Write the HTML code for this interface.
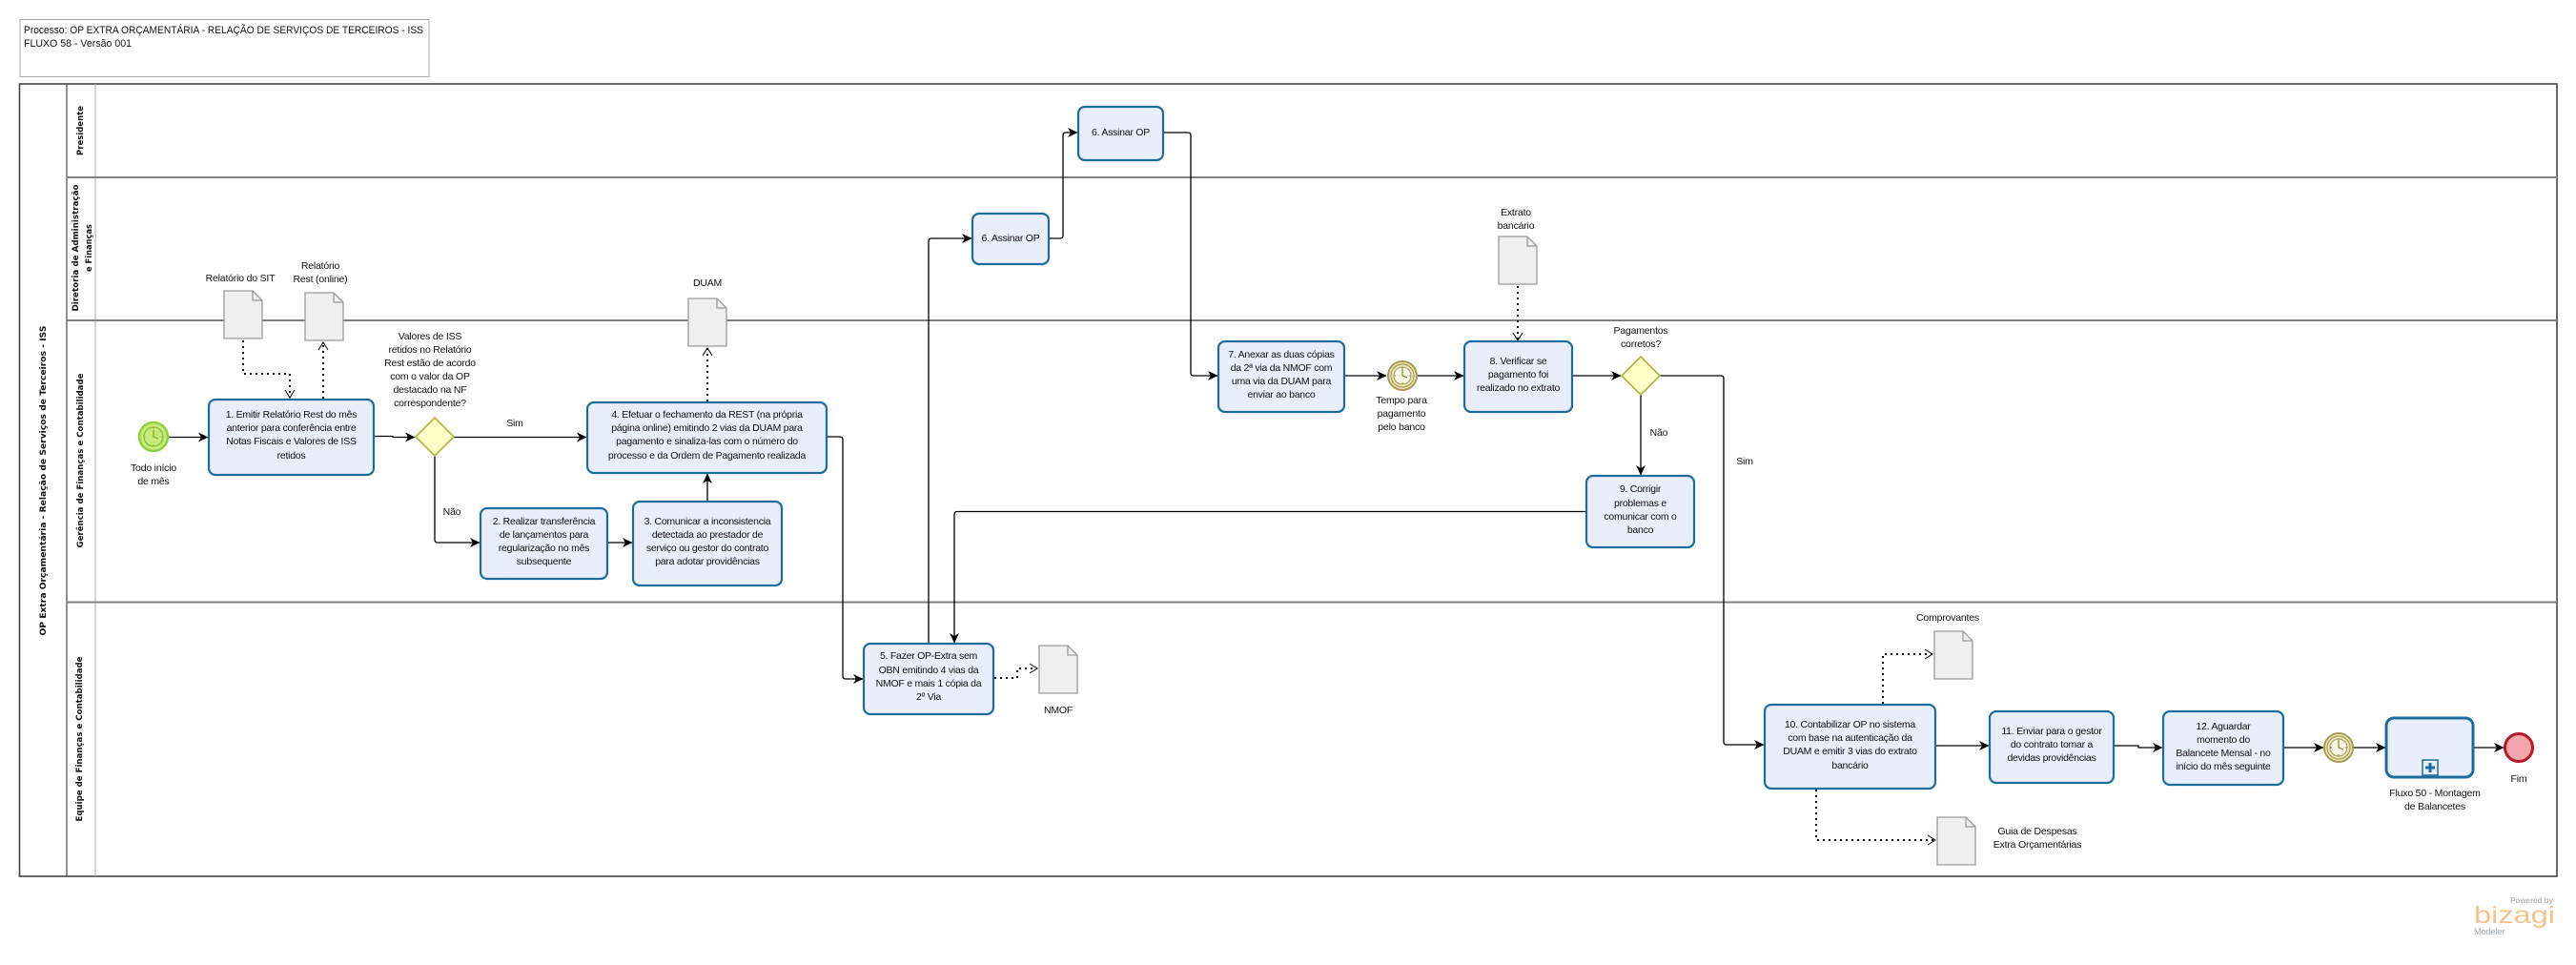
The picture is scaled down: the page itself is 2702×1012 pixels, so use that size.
<!DOCTYPE html>
<html><head><meta charset="utf-8">
<style>
html,body{margin:0;padding:0;background:#fff;}
svg{display:block;}
text{font-family:"Liberation Sans",Arial,sans-serif;fill:#111;}
.t{font-size:10.5px;text-anchor:middle;dominant-baseline:central;letter-spacing:-0.25px;}
.lb{font-size:10.5px;text-anchor:middle;dominant-baseline:central;letter-spacing:-0.2px;}
.lane{font-family:"DejaVu Sans",sans-serif;font-weight:bold;font-size:9px;text-anchor:middle;dominant-baseline:central;}
.task{fill:#e9eefc;stroke:#1d6c9c;stroke-width:2.2;}
.doc{fill:#efefef;stroke:#9a9a9a;stroke-width:1.3;}
.fl{fill:none;stroke:#000;stroke-width:1.3;}
.as{fill:none;stroke:#000;stroke-width:2;stroke-dasharray:2,4;}
</style></head><body>
<svg width="2702" height="1012" viewBox="0 0 2702 1012" xmlns="http://www.w3.org/2000/svg">
<defs>
<marker id="ah" markerWidth="11" markerHeight="11" refX="10" refY="5.5" orient="auto" markerUnits="userSpaceOnUse">
<path d="M0,0.5 L10.5,5.5 L0,10.5 L3,5.5 Z" fill="#000"/>
</marker>
<marker id="oa" markerWidth="12" markerHeight="12" refX="9" refY="6" orient="auto" markerUnits="userSpaceOnUse">
<path d="M1,1 L9,6 L1,11" fill="none" stroke="#000" stroke-width="1"/>
</marker>
</defs>

<!-- Title box -->
<rect x="21" y="20.5" width="429" height="60" fill="#fff" stroke="#a8a8a8" stroke-width="1"/>
<text x="25" y="32" style="font-size:11px;dominant-baseline:central;" textLength="419" lengthAdjust="spacingAndGlyphs">Processo: OP EXTRA ORÇAMENTÁRIA -  RELAÇÃO DE SERVIÇOS DE TERCEIROS -  ISS</text>
<text x="25" y="46" style="font-size:11px;dominant-baseline:central;" textLength="113" lengthAdjust="spacingAndGlyphs">FLUXO 58 - Versão 001</text>

<!-- Pool -->
<rect x="20.5" y="88" width="2661.5" height="831" fill="#fff" stroke="#444" stroke-width="1.6"/>
<line x1="70" y1="88" x2="70" y2="919" stroke="#555" stroke-width="1.3"/>
<line x1="100" y1="88" x2="100" y2="919" stroke="#aaa" stroke-width="1"/>
<line x1="70" y1="186" x2="2682" y2="186" stroke="#808080" stroke-width="2"/>
<line x1="70" y1="336" x2="2682" y2="336" stroke="#808080" stroke-width="2"/>
<line x1="70" y1="631.5" x2="2682" y2="631.5" stroke="#808080" stroke-width="2"/>

<text class="lane" transform="translate(46,504) rotate(-90)" textLength="325" lengthAdjust="spacingAndGlyphs">OP Extra Orçamentária  -  Relação de Serviços de Terceiros  -  ISS</text>
<text class="lane" transform="translate(85,137) rotate(-90)" textLength="52" lengthAdjust="spacingAndGlyphs">Presidente</text>
<text class="lane" transform="translate(80,260) rotate(-90)" textLength="133" lengthAdjust="spacingAndGlyphs">Diretoria de Administração</text>
<text class="lane" transform="translate(94,260) rotate(-90)" textLength="50" lengthAdjust="spacingAndGlyphs">e Finanças</text>
<text class="lane" transform="translate(85,483) rotate(-90)" textLength="183" lengthAdjust="spacingAndGlyphs">Gerência de Finanças e Contabilidade</text>
<text class="lane" transform="translate(84,775) rotate(-90)" textLength="173" lengthAdjust="spacingAndGlyphs">Equipe de Finanças e Contabilidade</text>

<!-- Documents -->
<g class="doc">
<path d="M235,305 h30 l10,10 v40 h-40 Z"/><path d="M265,305 v10 h10" fill="none"/>
<path d="M320,307 h30 l10,10 v40 h-40 Z"/><path d="M350,307 v10 h10" fill="none"/>
<path d="M722,313 h30 l10,10 v40 h-40 Z"/><path d="M752,313 v10 h10" fill="none"/>
<path d="M1572,248 h30 l10,10 v40 h-40 Z"/><path d="M1602,248 v10 h10" fill="none"/>
<path d="M1090,677 h30 l10,10 v40 h-40 Z"/><path d="M1120,677 v10 h10" fill="none"/>
<path d="M2029,662 h30 l10,10 v40 h-40 Z"/><path d="M2059,662 v10 h10" fill="none"/>
<path d="M2032,857 h30 l10,10 v40 h-40 Z"/><path d="M2062,857 v10 h10" fill="none"/>
</g>

<!-- Sequence flows -->
<g class="fl">
<path d="M176,458.5 H218" marker-end="url(#ah)"/>
<path d="M392,457.5 H412 V458.5 H435" marker-end="url(#ah)"/>
<path d="M476,458.5 H615" marker-end="url(#ah)"/>
<path d="M456,478 V566 Q456,569 459,569 H503" marker-end="url(#ah)"/>
<path d="M637,569 H663" marker-end="url(#ah)"/>
<path d="M742,526 V497" marker-end="url(#ah)"/>
<path d="M867,458 H881 Q884,458 884,461 V709 Q884,712 887,712 H905" marker-end="url(#ah)"/>
<path d="M974,675 V253 Q974,250 977,250 H1019" marker-end="url(#ah)"/>
<path d="M1100,250 H1112 Q1115,250 1115,247 V142 Q1115,139 1118,139 H1130" marker-end="url(#ah)"/>
<path d="M1220,139 H1246 Q1249,139 1249,142 V391 Q1249,394 1252,394 H1277" marker-end="url(#ah)"/>
<path d="M1410,394 H1454" marker-end="url(#ah)"/>
<path d="M1486,394 H1535" marker-end="url(#ah)"/>
<path d="M1649,394 H1700" marker-end="url(#ah)"/>
<path d="M1721,414 V498" marker-end="url(#ah)"/>
<path d="M1741,394 H1805 Q1808,394 1808,397 V778 Q1808,781 1811,781 H1850" marker-end="url(#ah)"/>
<path d="M1664,536.5 H1004 Q1001,536.5 1001,539.5 V674" marker-end="url(#ah)"/>
<path d="M2030,782 H2086" marker-end="url(#ah)"/>
<path d="M2217,782 H2243 V784 H2268" marker-end="url(#ah)"/>
<path d="M2395,784 H2437" marker-end="url(#ah)"/>
<path d="M2468,784 H2502" marker-end="url(#ah)"/>
<path d="M2594,784 H2626" marker-end="url(#ah)"/>
</g>

<!-- Associations -->
<g class="as">
<path d="M255,357 V392 H304 V417" marker-end="url(#oa)"/>
<path d="M339,418 V359" marker-end="url(#oa)"/>
<path d="M742,421 V365" marker-end="url(#oa)"/>
<path d="M1592,300 V357" marker-end="url(#oa)"/>
<path d="M1043,711 H1067 V701 H1088" marker-end="url(#oa)"/>
<path d="M1975,738 V686 H2027" marker-end="url(#oa)"/>
<path d="M1905,828 V881 H2030" marker-end="url(#oa)"/>
</g>

<!-- Tasks -->
<rect class="task" x="219" y="419" width="173" height="79" rx="7"/>
<text class="t" x="305.5" y="435">1. Emitir Relatório Rest  do mês</text>
<text class="t" x="305.5" y="449">anterior  para conferência entre</text>
<text class="t" x="305.5" y="463">Notas Fiscais e Valores de ISS</text>
<text class="t" x="305.5" y="478">retidos</text>

<rect class="task" x="504" y="533" width="133" height="74" rx="7"/>
<text class="t" x="570.5" y="547">2. Realizar transferência</text>
<text class="t" x="570.5" y="561">de lançamentos para</text>
<text class="t" x="570.5" y="575">regularização no mês</text>
<text class="t" x="570.5" y="589">subsequente</text>

<rect class="task" x="664" y="526" width="156" height="88" rx="7"/>
<text class="t" x="742" y="547">3. Comunicar a inconsistencia</text>
<text class="t" x="742" y="561">detectada ao prestador de</text>
<text class="t" x="742" y="575">serviço ou gestor do contrato</text>
<text class="t" x="742" y="589">para adotar providências</text>

<rect class="task" x="616" y="422" width="251" height="74" rx="7"/>
<text class="t" x="741.5" y="435">4. Efetuar o fechamento da REST (na própria</text>
<text class="t" x="741.5" y="449">página online) emitindo  2 vias da DUAM para</text>
<text class="t" x="741.5" y="463">pagamento e sinaliza-las com o número do</text>
<text class="t" x="741.5" y="478">processo e da Ordem de Pagamento realizada</text>

<rect class="task" x="906" y="675" width="136" height="74" rx="7"/>
<text class="t" x="974" y="688">5. Fazer OP-Extra sem</text>
<text class="t" x="974" y="703">OBN emitindo 4 vias da</text>
<text class="t" x="974" y="717">NMOF e mais 1 cópia da</text>
<text class="t" x="974" y="731">2º Via</text>

<rect class="task" x="1020" y="224" width="80" height="53" rx="7"/>
<text class="t" x="1060" y="250">6. Assinar OP</text>

<rect class="task" x="1131" y="112" width="89" height="56" rx="7"/>
<text class="t" x="1175.5" y="139">6. Assinar OP</text>

<rect class="task" x="1278" y="358" width="132" height="74" rx="7"/>
<text class="t" x="1344" y="372">7. Anexar as duas cópias</text>
<text class="t" x="1344" y="386">da 2ª via da NMOF com</text>
<text class="t" x="1344" y="400">uma via da DUAM para</text>
<text class="t" x="1344" y="414">enviar ao banco</text>

<rect class="task" x="1536" y="358" width="113" height="74" rx="7"/>
<text class="t" x="1592.5" y="379">8. Verificar se</text>
<text class="t" x="1592.5" y="393">pagamento foi</text>
<text class="t" x="1592.5" y="407">realizado no extrato</text>

<rect class="task" x="1664" y="499" width="113" height="75" rx="7"/>
<text class="t" x="1720.5" y="513">9. Corrigir</text>
<text class="t" x="1720.5" y="528">problemas e</text>
<text class="t" x="1720.5" y="542">comunicar com o</text>
<text class="t" x="1720.5" y="556">banco</text>

<rect class="task" x="1851" y="739" width="179" height="88" rx="7"/>
<text class="t" x="1940.5" y="760">10. Contabilizar OP no sistema</text>
<text class="t" x="1940.5" y="774">com base na autenticação da</text>
<text class="t" x="1940.5" y="788">DUAM e emitir 3 vias do extrato</text>
<text class="t" x="1940.5" y="803">bancário</text>

<rect class="task" x="2087" y="746" width="130" height="75" rx="7"/>
<text class="t" x="2152" y="767">11. Enviar para o gestor</text>
<text class="t" x="2152" y="781">do contrato tomar a</text>
<text class="t" x="2152" y="795">devidas providências</text>

<rect class="task" x="2269" y="746" width="126" height="77" rx="7"/>
<text class="t" x="2332" y="762">12. Aguardar</text>
<text class="t" x="2332" y="776">momento do</text>
<text class="t" x="2332" y="790">Balancete Mensal - no</text>
<text class="t" x="2332" y="804">início do mês seguinte</text>

<!-- Subprocess -->
<rect x="2503" y="753" width="91" height="62" rx="8" fill="#e9eefc" stroke="#1d6c9c" stroke-width="3"/>
<rect x="2541" y="797" width="16" height="16" fill="#e9eefc" stroke="#1d6c9c" stroke-width="1.5"/>
<path d="M2549,800 V810 M2544,805 H2554" stroke="#1d6c9c" stroke-width="3"/>

<!-- Gateways -->
<path d="M456,438 L476,458 L456,478 L436,458 Z" fill="#ffffc6" stroke="#b5ad3c" stroke-width="1.6"/>
<path d="M1721,374 L1741,394 L1721,414 L1701,394 Z" fill="#ffffc6" stroke="#b5ad3c" stroke-width="1.6"/>

<!-- Start event -->
<g transform="translate(161,458)">
<circle r="15" fill="#c8e97c" stroke="#8fd13e" stroke-width="2.5"/>
<circle r="10" fill="none" stroke="#82c333" stroke-width="1.3"/>
<path d="M0,-7 V0 L5,2" fill="none" stroke="#6fae28" stroke-width="1.2"/>
<path d="M0,-10 V-8 M0,10 V8 M-10,0 H-8 M10,0 H8" stroke="#82c333" stroke-width="1"/>
</g>

<!-- Timer intermediate events -->
<g transform="translate(1471,394)">
<circle r="15" fill="#ece6bf" stroke="#a89c52" stroke-width="2"/>
<circle r="12" fill="none" stroke="#a89c52" stroke-width="1.2"/>
<circle r="9" fill="#f8f5e2" stroke="#a89c52" stroke-width="1"/>
<path d="M0,-7 V0 L5,2" fill="none" stroke="#8a7f3a" stroke-width="1.2"/>
<path d="M0,-9 V-7 M0,9 V7 M-9,0 H-7 M9,0 H7" stroke="#8a7f3a" stroke-width="1"/>
</g>
<g transform="translate(2453,784)">
<circle r="15" fill="#ece6bf" stroke="#a89c52" stroke-width="2"/>
<circle r="12" fill="none" stroke="#a89c52" stroke-width="1.2"/>
<circle r="9" fill="#f8f5e2" stroke="#a89c52" stroke-width="1"/>
<path d="M0,-7 V0 L5,2" fill="none" stroke="#8a7f3a" stroke-width="1.2"/>
<path d="M0,-9 V-7 M0,9 V7 M-9,0 H-7 M9,0 H7" stroke="#8a7f3a" stroke-width="1"/>
</g>

<!-- End event -->
<circle cx="2642" cy="784" r="14.5" fill="#f2a3ab" stroke="#b01a2a" stroke-width="3"/>

<!-- Labels -->
<text class="lb" x="252" y="292">Relatório do SIT</text>
<text class="lb" x="336" y="279">Relatório</text>
<text class="lb" x="336" y="293">Rest (online)</text>
<text class="lb" x="451" y="353">Valores de ISS</text>
<text class="lb" x="451" y="367">retidos no Relatório</text>
<text class="lb" x="451" y="381">Rest estão de acordo</text>
<text class="lb" x="451" y="395">com o valor da OP</text>
<text class="lb" x="451" y="409">destacado na NF</text>
<text class="lb" x="451" y="423">correspondente?</text>
<text class="lb" x="161" y="491">Todo início</text>
<text class="lb" x="161" y="505">de mês</text>
<text class="lb" x="540" y="444">Sim</text>
<text class="lb" x="474" y="537">Não</text>
<text class="lb" x="742" y="297">DUAM</text>
<text class="lb" x="1590" y="223">Extrato</text>
<text class="lb" x="1590" y="237">bancário</text>
<text class="lb" x="1721" y="347">Pagamentos</text>
<text class="lb" x="1721" y="361">corretos?</text>
<text class="lb" x="1470" y="420">Tempo para</text>
<text class="lb" x="1470" y="434">pagamento</text>
<text class="lb" x="1470" y="448">pelo banco</text>
<text class="lb" x="1740" y="454">Não</text>
<text class="lb" x="1830" y="484">Sim</text>
<text class="lb" x="1110" y="745">NMOF</text>
<text class="lb" x="2043" y="648">Comprovantes</text>
<text class="lb" x="2137" y="872">Guia de Despesas</text>
<text class="lb" x="2137" y="886">Extra Orçamentárias</text>
<text class="lb" x="2554" y="832">Fluxo 50 - Montagem</text>
<text class="lb" x="2554" y="846">de Balancetes</text>
<text class="lb" x="2642" y="817">Fim</text>

<!-- Bizagi logo -->
<text x="2678" y="947" style="font-size:8px;font-weight:bold;fill:#b8b8b8;text-anchor:end;">Powered by</text>
<text x="2595" y="968" style="font-size:25px;fill:#f6c28b;" textLength="85" lengthAdjust="spacingAndGlyphs">bizagi</text>
<text x="2595" y="980" style="font-size:9px;fill:#a0a8b0;">Modeler</text>
</svg>
</body></html>
